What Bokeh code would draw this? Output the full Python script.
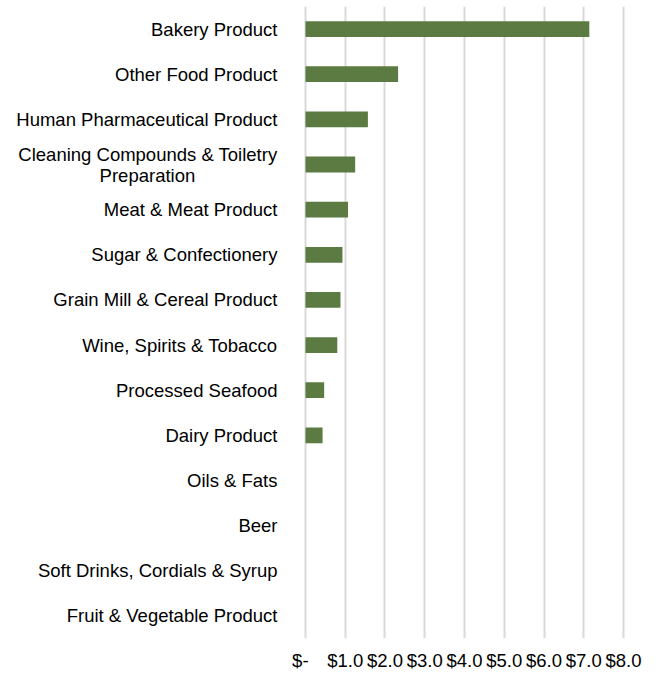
from bokeh.plotting import figure
from bokeh.models import FactorRange, Range1d, FixedTicker, ColumnDataSource
from bokeh.embed import file_html
from bokeh.resources import INLINE

NB = "\u00a0"
categories = [
    "Bakery Product",
    "Other Food Product",
    "Human Pharmaceutical Product",
    "Cleaning Compounds & Toiletry\nPreparation" + NB * 16,
    "Meat & Meat Product",
    "Sugar & Confectionery",
    "Grain Mill & Cereal Product",
    "Wine, Spirits & Tobacco",
    "Processed Seafood",
    "Dairy Product",
    "Oils & Fats",
    "Beer",
    "Soft Drinks, Cordials & Syrup",
    "Fruit & Vegetable Product",
]
values = [7.14, 2.33, 1.57, 1.25, 1.07, 0.93, 0.88, 0.80, 0.47, 0.43, 0, 0, 0, 0]
tick_values = [0, 1, 2, 3, 4, 5, 6, 7, 8]
tick_labels = ["$-" + NB * 2, "$1.0", "$2.0", "$3.0", "$4.0", "$5.0", "$6.0", "$7.0", "$8.0"]

FONT = "Liberation Sans"
FS = "18.5px"

source = ColumnDataSource(data=dict(cat=categories, val=values))

p = figure(
    width=660, height=673,
    y_range=FactorRange(factors=list(reversed(categories)), range_padding=0),
    x_range=Range1d(-0.05, 8.05),
    output_backend="svg", toolbar_location=None,
    min_border_left=303, min_border_right=35, min_border_top=6, min_border_bottom=35,
)
p.outline_line_color = None

p.hbar(y="cat", left=0, right="val", height=0.35, source=source,
       fill_color="#5B7B42", line_color=None)

p.xaxis.ticker = FixedTicker(ticks=tick_values)
p.xaxis.major_label_overrides = {v: l for v, l in zip(tick_values, tick_labels)}
p.xaxis.axis_line_color = None
p.xaxis.major_tick_line_color = None
p.xaxis.minor_tick_line_color = None
p.xaxis.major_label_standoff = 5
p.xaxis.major_label_text_font = FONT
p.xaxis.major_label_text_font_size = FS
p.xaxis.major_label_text_color = "#000000"

p.yaxis.axis_line_color = None
p.yaxis.major_tick_line_color = None
p.yaxis.minor_tick_line_color = None
p.yaxis.major_label_standoff = 20
p.yaxis.major_label_text_font = FONT
p.yaxis.major_label_text_font_size = FS
p.yaxis.major_label_text_color = "#000000"
p.yaxis.major_label_text_line_height = 1.0

p.ygrid.grid_line_color = None
p.xgrid.grid_line_color = "#D9D9D9"
p.xgrid.grid_line_width = 2

open("out.html", "w").write(file_html(p, INLINE))
